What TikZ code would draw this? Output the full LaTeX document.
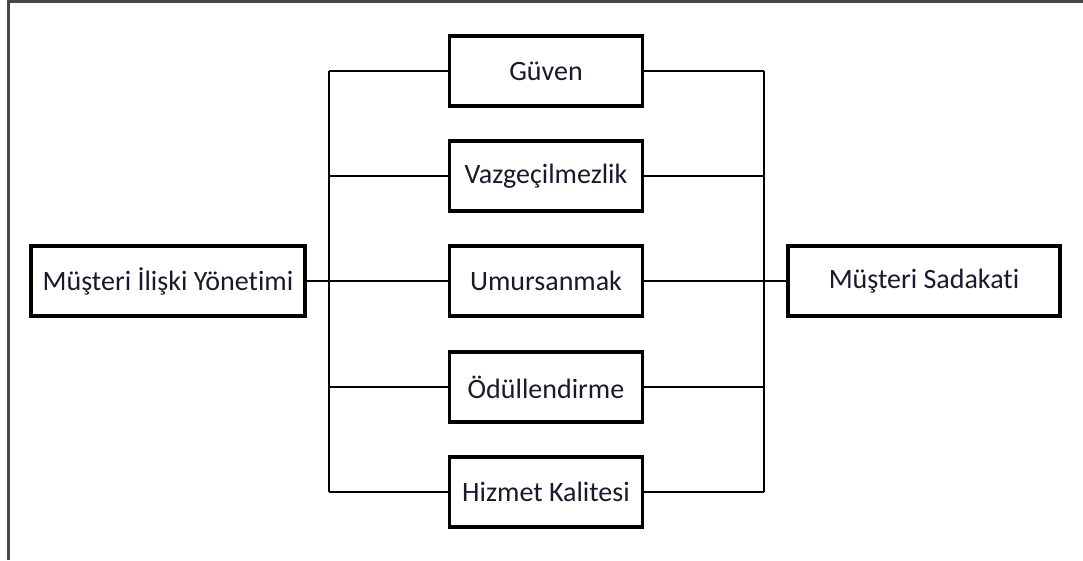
\documentclass[tikz,border=0pt]{standalone}
\usepackage{fontspec}
\setmainfont{Carlito}[Ligatures=NoCommon]
\definecolor{frame}{RGB}{70,70,70}
\definecolor{txt}{RGB}{25,25,45}
\begin{document}
\begin{tikzpicture}[x=1pt,y=-1pt,
  box/.style={draw=black, line width=3.2pt, fill=white, minimum height=70pt,
    inner sep=0pt, text=txt, font=\fontsize{28}{32}\selectfont},
  midbox/.style={box, minimum width=193pt},
  link/.style={draw=black, line width=1.5pt}]
\useasboundingbox (0,0) rectangle (1083,560);
% outer frame (top and left edges)
\draw[frame, line width=2.2pt] (8.5,560) -- (8.5,1.5) -- (1083,1.5);

% side boxes
\node[box, minimum width=274pt] (crm) at (168,281) {Müşteri İlişki Yönetimi};
\node[box, minimum width=272pt] (loy) at (924,281) {Müşteri Sadakati};

% middle boxes
\node[midbox] (g) at (546,71)  {Güven};
\node[midbox] (v) at (546,176) {Vazgeçilmezlik};
\node[midbox] (u) at (546,281) {Umursanmak};
\node[midbox] (o) at (546,387) {Ödüllendirme};
\node[midbox] (h) at (546,492) {Hizmet Kalitesi};

% buses
\coordinate (lt) at (329,71);
\coordinate (lb) at (329,492);
\coordinate (rt) at (764,71);
\coordinate (rb) at (764,492);
\draw[link] (lt) -- (lb);
\draw[link] (rt) -- (rb);

% connectors
\draw[link] (crm.east) -- (u.west);
\draw[link] (u.east) -- (loy.west);
\foreach \n in {g,v,o,h}{
  \draw[link] (\n.west) -- (329,0 |- \n.west);
  \draw[link] (\n.east) -- (764,0 |- \n.east);
}
\end{tikzpicture}
\end{document}
